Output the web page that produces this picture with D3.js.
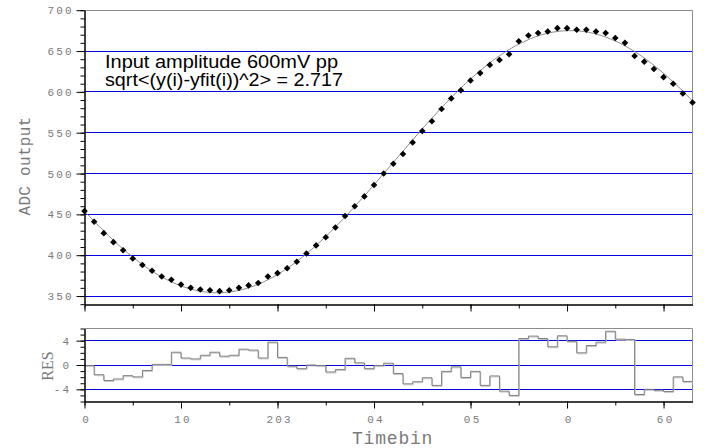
<!DOCTYPE html>
<html><head><meta charset="utf-8">
<script src="https://cdn.jsdelivr.net/npm/d3@7"></script>
<style>html,body{margin:0;padding:0;background:#fff;}svg{display:block;}</style>
</head><body>
<svg id="chart" width="707" height="448"></svg>
<script>
// ---- data ----
const timebins = d3.range(0, 64);
const adcOutput = [454, 441, 427, 416, 406, 396, 388, 381, 374, 370,
  364, 360, 358, 357, 356, 357, 360, 363, 366, 374,
  378, 384, 392, 402, 412, 422, 434, 448, 460, 472,
  486, 500, 512, 524, 538, 552, 564, 579, 592, 602,
  614, 623, 633, 639, 646, 662, 669, 672, 674, 678,
  678, 676, 676, 674, 672, 666, 660, 644, 637, 628,
  618, 610, 598, 587];
const residuals = [-0.1, -1.6, -2.55, -2.3, -1.75, -1.95, -0.9, 0.1, 0.1, 2.1,
  1.15, 1.0, 1.6, 2.1, 1.45, 1.6, 2.6, 2.45, 1.15, 3.75,
  1.25, -0.2, -0.6, 0.0, -0.1, -1.15, -0.75, 1.1, 0.35, -0.6,
  -0.1, 0.3, -1.4, -3.1, -2.75, -2.1, -3.35, -1.05, -0.3, -2.05,
  -1.05, -3.35, -1.8, -4.3, -5.0, 4.35, 4.75, 4.35, 3.0, 4.8,
  3.9, 2.0, 3.2, 3.75, 5.55, 4.25, 4.2, -4.85, -4.0, -4.15,
  -4.35, -1.95, -2.7, -1.9];
// fitted sine: offset + amplitude * sin(2*pi*(t - center)/period)
const fitOffset = 514.5, fitAmplitude = 160.5, fitPeriod = 73.1, fitCenter = 32.06;
const yTopTicks = [350, 400, 450, 500, 550, 600, 650, 700];
const yTopLabels = ["350", "400", "450", "500", "550", "600", "650", "700"];
const yResTicks = [-4, 0, 4];
const yResLabels = ["-4", "0", "4"];
const xTicks = [0, 10, 20, 30, 40, 50, 60];
const xTickLabels = ["0", "10", "203", "04", "05", "0", "60"];
const annotation = ["Input amplitude 600mV pp", "sqrt<(y(i)-yfit(i))^2> = 2.717"];

// ---- layout ----
const svg = d3.select("#chart");
svg.append("rect").attr("width", 707).attr("height", 448).attr("fill", "#fff");
const L = 84.5, R = 692.5;
const x = d3.scaleLinear().domain([0, 63]).range([L, R]);
const yTop = d3.scaleLinear().domain([340, 700]).range([304.2, 10.2]);
const yRes = d3.scaleLinear().domain([-6, 6]).range([401.5, 328.5]);
const crisp = v => Math.floor(v) + 0.5;
const gridBlue = "#0000e0", frameGray = "#8c8c8c", labelGray = "#7a7a7a";
const mono = "'Liberation Mono', 'DejaVu Sans Mono', monospace";
const topY0 = crisp(yTop(700)), topY1 = crisp(yTop(340));

const defs = svg.append("defs");
defs.append("clipPath").attr("id", "clipTop").append("rect")
  .attr("x", L).attr("y", topY0).attr("width", R - L).attr("height", topY1 - topY0);
defs.append("clipPath").attr("id", "clipRes").append("rect")
  .attr("x", L).attr("y", 328.5).attr("width", R - L).attr("height", 73);

// grid lines
svg.append("g").selectAll("line").data(yTopTicks.filter(d => d < 700)).join("line")
  .attr("x1", L).attr("x2", R).attr("y1", d => crisp(yTop(d))).attr("y2", d => crisp(yTop(d)))
  .attr("stroke", gridBlue).attr("stroke-width", 1);
svg.append("g").selectAll("line").data(yResTicks).join("line")
  .attr("x1", L).attr("x2", R).attr("y1", d => crisp(yRes(d))).attr("y2", d => crisp(yRes(d)))
  .attr("stroke", gridBlue).attr("stroke-width", 1);

// frames (top & right, gray)
function frame(yA, yB) {
  svg.append("path").attr("d", `M${L},${yA}H${R}V${yB}`)
    .attr("fill", "none").attr("stroke", frameGray).attr("stroke-width", 1);
}
frame(topY0, topY1);
frame(yRes(6), yRes(-6));

// fit curve
const fitFn = t => fitOffset + fitAmplitude * Math.sin(2 * Math.PI * (t - fitCenter) / fitPeriod);
const fitSamples = d3.range(0, 63.01, 0.25);
svg.append("path").datum(fitSamples)
  .attr("clip-path", "url(#clipTop)")
  .attr("d", d3.line().x(t => x(t)).y(t => yTop(fitFn(t))))
  .attr("fill", "none").attr("stroke", "#8a8a8a").attr("stroke-width", 1);

// data markers (diamonds)
svg.append("g").selectAll("path").data(adcOutput).join("path")
  .attr("transform", (d, i) => `translate(${x(timebins[i])},${yTop(d)})`)
  .attr("d", "M0,-3.3L3.3,0L0,3.3L-3.3,0Z").attr("fill", "#000");

// residual step line
const stepPts = residuals.map((r, i) => [timebins[i], r]).concat([[64, residuals[residuals.length - 1]]]);
const stepLine = d3.line().x(d => x(d[0])).y(d => yRes(d[1])).curve(d3.curveStepAfter);
const gRes = svg.append("g").attr("clip-path", "url(#clipRes)");
gRes.append("path").datum(stepPts).attr("d", stepLine).attr("transform", "translate(0.6,1)")
  .attr("fill", "none").attr("stroke", "#c8c8c8").attr("stroke-width", 1);
gRes.append("path").datum(stepPts).attr("d", stepLine)
  .attr("fill", "none").attr("stroke", "#808080").attr("stroke-width", 1);

// axes
function styleAxis(g) {
  g.selectAll(".domain").attr("stroke", "#000");
  g.selectAll(".tick line").attr("stroke", "#000");
}
// top panel y
svg.append("g").attr("transform", `translate(${L},0)`)
  .call(d3.axisLeft(yTop).tickValues(d3.range(340, 701, 10)).tickSize(4).tickSizeOuter(0).tickFormat(""))
  .call(styleAxis);
const gyTop = svg.append("g").attr("transform", `translate(${L},0)`)
  .call(d3.axisLeft(yTop).tickValues(yTopTicks).tickSize(8).tickSizeOuter(0).tickPadding(2.6)
    .tickFormat((d, i) => yTopLabels[i]))
  .call(styleAxis);
// top panel x
svg.append("g").attr("transform", `translate(0,${topY1})`)
  .call(d3.axisBottom(x).tickValues(d3.range(0, 64, 5)).tickSize(4).tickSizeOuter(0).tickFormat(""))
  .call(styleAxis);
svg.append("g").attr("transform", `translate(0,${topY1})`)
  .call(d3.axisBottom(x).tickValues(xTicks).tickSize(7).tickSizeOuter(0).tickFormat(""))
  .call(styleAxis);
// residual y
svg.append("g").attr("transform", `translate(${L},0)`)
  .call(d3.axisLeft(yRes).tickValues(d3.range(-6, 7, 1)).tickSize(4).tickSizeOuter(0).tickFormat(""))
  .call(styleAxis);
const gyRes = svg.append("g").attr("transform", `translate(${L},0)`)
  .call(d3.axisLeft(yRes).tickValues(yResTicks).tickSize(8).tickSizeOuter(0).tickPadding(5.2)
    .tickFormat((d, i) => yResLabels[i]))
  .call(styleAxis);
// residual x
svg.append("g").attr("transform", `translate(0,${yRes(-6)})`)
  .call(d3.axisBottom(x).tickValues(d3.range(0, 64, 5)).tickSize(4).tickSizeOuter(0).tickFormat(""))
  .call(styleAxis);
const gx = svg.append("g").attr("transform", `translate(0,${yRes(-6)})`)
  .call(d3.axisBottom(x).tickValues(xTicks).tickSize(7).tickSizeOuter(0).tickPadding(7)
    .tickFormat((d, i) => xTickLabels[i]))
  .call(styleAxis);

[gyTop, gyRes, gx].forEach(g => g.selectAll(".tick text")
  .attr("fill", labelGray).style("font-family", mono).style("font-size", "11px")
  .style("letter-spacing", "2.2px"));
gx.selectAll(".tick text").attr("dx", "1.6px");

// axis titles
svg.append("text").attr("transform", "translate(30,166) rotate(-90)")
  .attr("text-anchor", "middle").attr("fill", labelGray)
  .style("font-family", mono).style("font-size", "16px").style("letter-spacing", "0.3px")
  .text("ADC output");
svg.append("text").attr("transform", "translate(53,366) rotate(-90)")
  .attr("text-anchor", "middle").attr("fill", labelGray)
  .style("font-family", "'Liberation Serif', 'DejaVu Serif', serif").style("font-size", "16px")
  .text("RES");
svg.append("text").attr("x", 352).attr("y", 444)
  .attr("fill", labelGray)
  .style("font-family", mono).style("font-size", "18px").style("letter-spacing", "0.8px")
  .text("Timebin");

// annotation
svg.append("g").selectAll("text").data(annotation).join("text")
  .attr("x", 105).attr("y", (d, i) => 67.5 + i * 18.7)
  .attr("textLength", (d, i) => i === 0 ? 233 : 238).attr("lengthAdjust", "spacingAndGlyphs")
  .attr("fill", "#000")
  .style("font-family", "'Liberation Sans', Arial, sans-serif").style("font-size", "17.5px")
  .text(d => d);
</script>
</body></html>
